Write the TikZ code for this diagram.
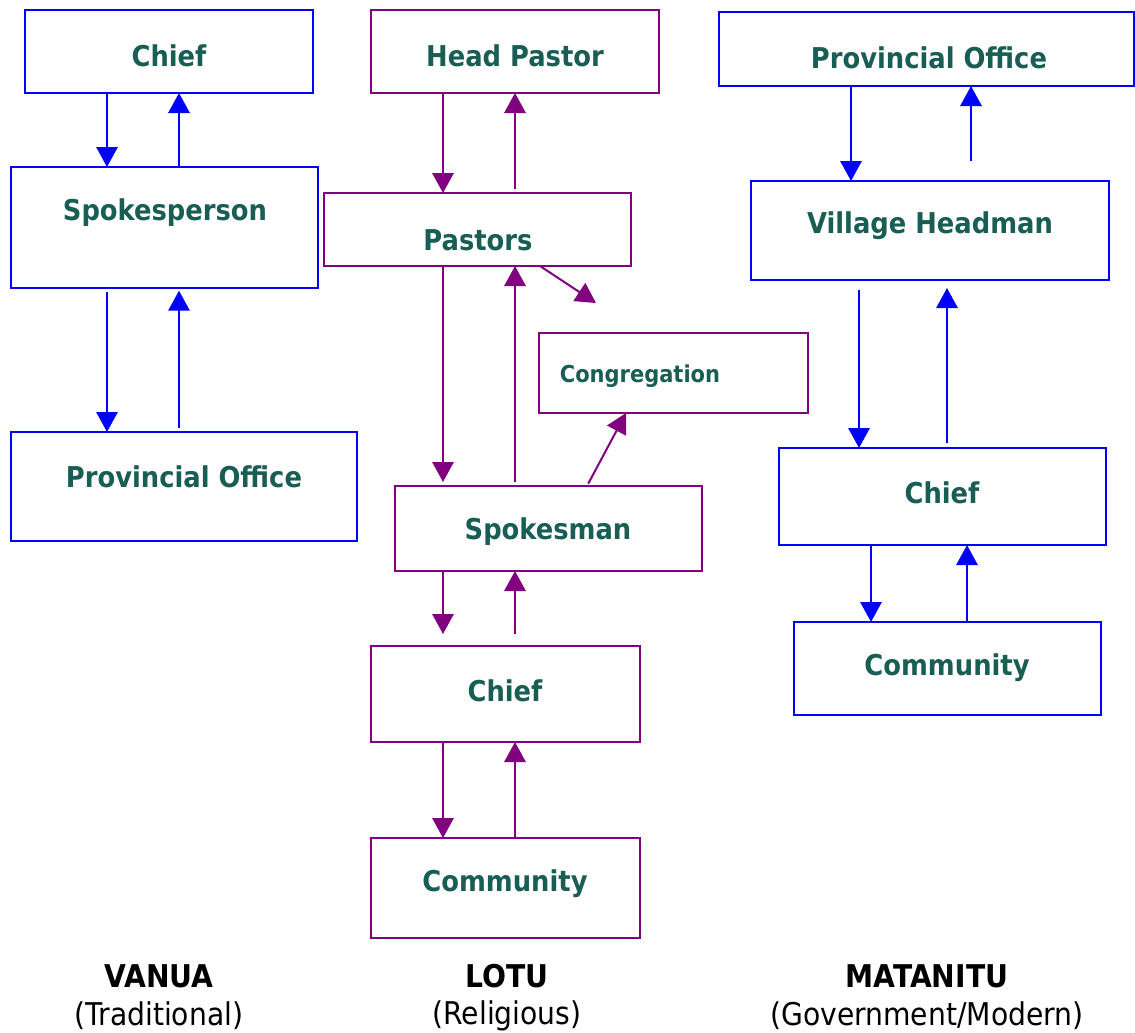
\documentclass[tikz,border=0pt]{standalone}
\usepackage{fontspec}
\setmainfont{DejaVu Sans Condensed}
\usetikzlibrary{arrows.meta}
\definecolor{labelteal}{RGB}{24,94,84}
\definecolor{vblue}{RGB}{0,0,255}
\definecolor{lpurple}{RGB}{128,0,128}
\tikzset{
  box/.style={draw, line width=1.5pt, rectangle, outer sep=0pt, inner sep=0pt},
  bluebox/.style={box, draw=vblue},
  purplebox/.style={box, draw=lpurple},
  boxtext/.style={text=labelteal, font=\fontsize{21.5}{24}\selectfont\bfseries, inner sep=0pt},
  smalltext/.style={text=labelteal, font=\fontsize{17.5}{20}\selectfont\bfseries, inner sep=0pt},
  arr/.style={line width=1.5pt, -{Triangle[length=15pt,width=16pt]}},
  barr/.style={arr, draw=vblue, fill=vblue},
  parr/.style={arr, draw=lpurple, fill=lpurple},
  headtext/.style={font=\fontsize{23.5}{26}\selectfont\bfseries, inner sep=0pt},
  subtext/.style={font=\fontsize{23.5}{26}\selectfont, inner sep=0pt}
}
\begin{document}
\begin{tikzpicture}[x=0.75pt, y=-0.75pt]
\useasboundingbox (0,0) rectangle (1135,1032);

% ---- VANUA column ----
\node[bluebox, minimum width=216pt, minimum height=62.25pt] (vchief) at (169,51.5) {};
\node[boxtext] (vchiefT) at (169,56) {Chief};
\node[bluebox, minimum width=230.25pt, minimum height=90.75pt] (vspk) at (164.5,227.5) {};
\node[boxtext] (vspkT) at (165,213) {Spokesperson};
\node[bluebox, minimum width=259.5pt, minimum height=81.75pt] (vprov) at (184,486.5) {};
\node[boxtext] (vprovT) at (184,477) {Provincial Office};

\draw[barr] (107,0 |- vchief.south) -- (107,0 |- vspk.north);
\draw[barr] (179,0 |- vspk.north) -- (179,0 |- vchief.south);
\draw[barr, shorten <=3pt] (107,0 |- vspk.south) -- (107,0 |- vprov.north);
\draw[barr, shorten <=3pt, shorten >=2pt] (179,0 |- vprov.north) -- (179,0 |- vspk.south);

% ---- LOTU column ----
\node[purplebox, minimum width=216pt, minimum height=62.25pt] (hpastor) at (515,51.5) {};
\node[boxtext] (hpastorT) at (515,56) {Head Pastor};
\node[purplebox, minimum width=230.25pt, minimum height=54.75pt] (pastors) at (477.5,229.5) {};
\node[boxtext] (pastorsT) at (478,240) {Pastors};
\node[purplebox, minimum width=201.75pt, minimum height=60pt] (cong) at (673.5,373) {};
\node[smalltext] (congT) at (640,376) {Congregation};
\node[purplebox, minimum width=230.25pt, minimum height=63.75pt] (spkm) at (548.5,528.5) {};
\node[boxtext] (spkmT) at (548,532) {Spokesman};
\node[purplebox, minimum width=201.75pt, minimum height=72pt] (lchief) at (505.5,694) {};
\node[boxtext] (lchiefT) at (505,691) {Chief};
\node[purplebox, minimum width=201.75pt, minimum height=75pt] (lcomm) at (505.5,888) {};
\node[boxtext] (lcommT) at (505,884) {Community};
\coordinate (congtip) at (596,303);

\draw[parr] (443,0 |- hpastor.south) -- (443,0 |- pastors.north);
\draw[parr, shorten <=3pt] (515,0 |- pastors.north) -- (515,0 |- hpastor.south);
\draw[parr, shorten >=3pt] (443,0 |- pastors.south) -- (443,0 |- spkm.north);
\draw[parr, shorten <=3pt] (515,0 |- spkm.north) -- (515,0 |- pastors.south);
\draw[parr] (540,0 |- pastors.south) -- (congtip);
\draw[parr, shorten <=2pt] (587,0 |- spkm.north) -- (626,0 |- cong.south);
\draw[parr, shorten >=9pt] (443,0 |- spkm.south) -- (443,0 |- lchief.north);
\draw[parr, shorten <=9pt] (515,0 |- lchief.north) -- (515,0 |- spkm.south);
\draw[parr] (443,0 |- lchief.south) -- (443,0 |- lcomm.north);
\draw[parr] (515,0 |- lcomm.north) -- (515,0 |- lchief.south);

% ---- MATANITU column ----
\node[bluebox, minimum width=311.25pt, minimum height=55.5pt] (mprov) at (926.5,49) {};
\node[boxtext] (mprovT) at (929,58) {Provincial Office};
\node[bluebox, minimum width=268.5pt, minimum height=74.25pt] (mvh) at (930,230.5) {};
\node[boxtext] (mvhT) at (930,226) {Village Headman};
\node[bluebox, minimum width=245.25pt, minimum height=72.75pt] (mchief) at (942.5,496.5) {};
\node[boxtext] (mchiefT) at (942,493) {Chief};
\node[bluebox, minimum width=230.25pt, minimum height=69.75pt] (mcomm) at (947.5,668.5) {};
\node[boxtext] (mcommT) at (947,668) {Community};

\draw[barr] (851,0 |- mprov.south) -- (851,0 |- mvh.north);
\draw[barr, shorten <=15pt] (971,0 |- mvh.north) -- (971,0 |- mprov.south);
\draw[barr, shorten <=7.5pt] (859,0 |- mvh.south) -- (859,0 |- mchief.north);
\draw[barr, shorten <=3.5pt, shorten >=6pt] (947,0 |- mchief.north) -- (947,0 |- mvh.south);
\draw[barr] (871,0 |- mchief.south) -- (871,0 |- mcomm.north);
\draw[barr] (967,0 |- mcomm.north) -- (967,0 |- mchief.south);

% ---- column captions ----
\node[headtext] (capV) at (159,976) {VANUA};
\node[subtext] (subV) at (159,1016) {(Traditional)};
\node[headtext] (capL) at (507,976) {LOTU};
\node[subtext] (subL) at (507,1016) {(Religious)};
\node[headtext] (capM) at (927,976) {MATANITU};
\node[subtext] (subM) at (927,1016) {(Government/Modern)};
\end{tikzpicture}
\end{document}
